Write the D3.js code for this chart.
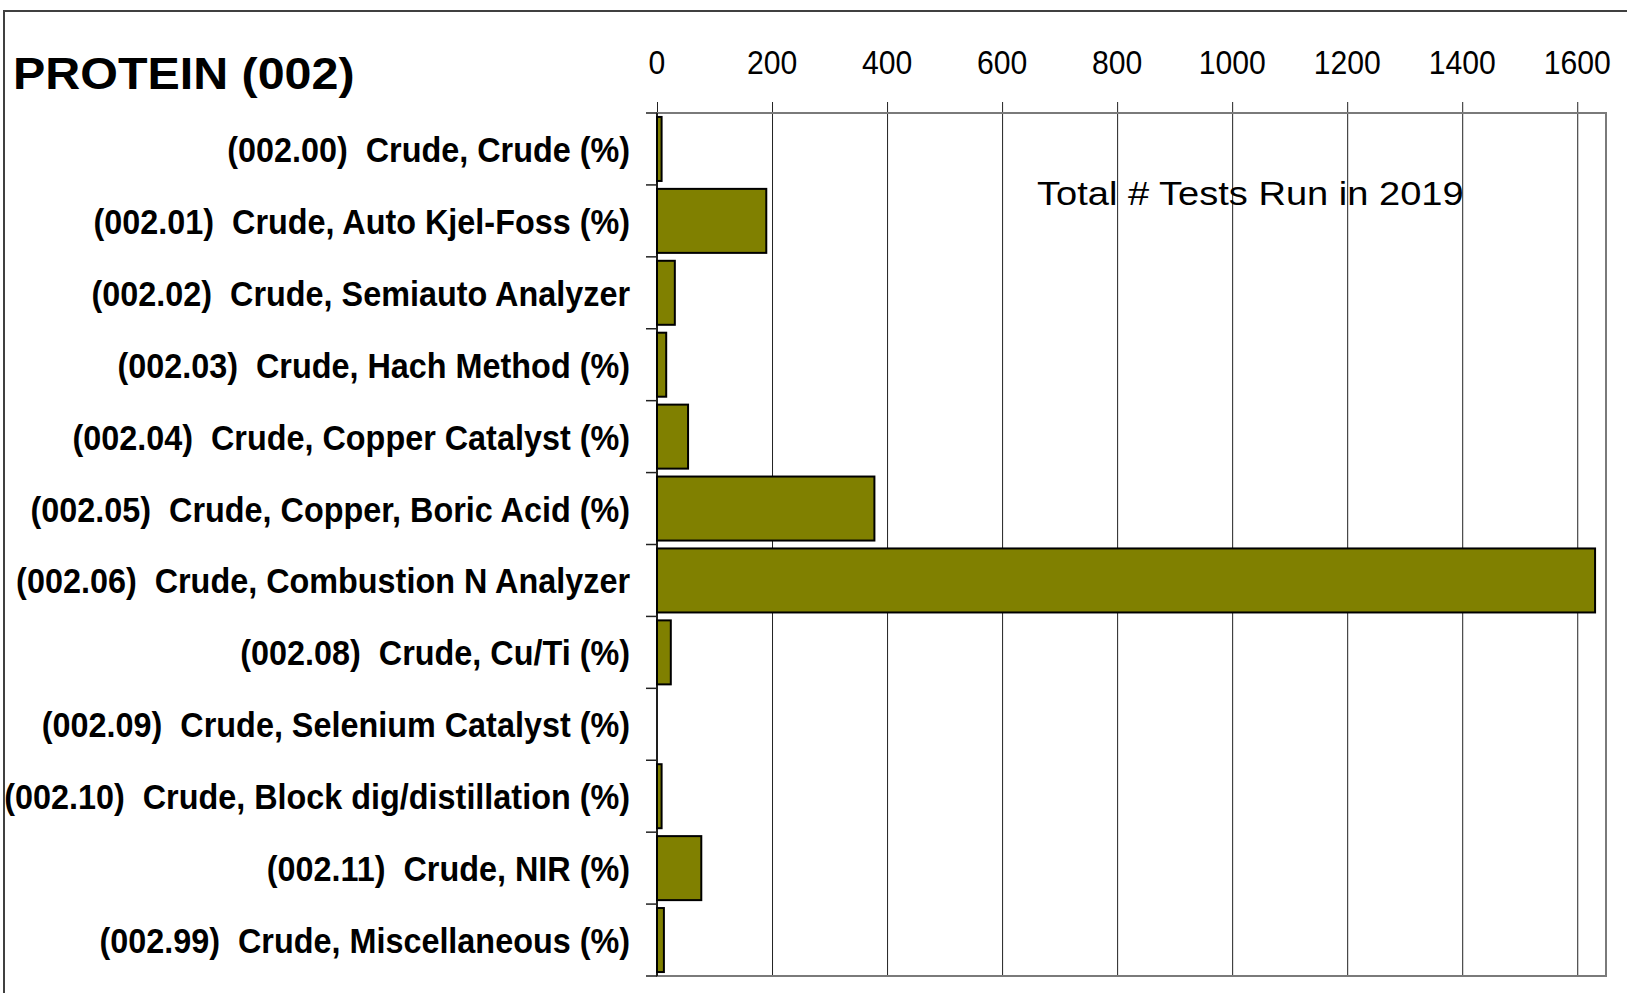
<!DOCTYPE html>
<html>
<head>
<meta charset="utf-8">
<script src="https://cdn.jsdelivr.net/npm/d3@7"></script>
<style>
  body { margin: 0; background: #fff; }
  svg text { font-family: "Liberation Sans", Arial, sans-serif; white-space: pre; }
</style>
</head>
<body>
<svg id="chart"></svg>
<script>
// categories and number of tests run
const categories = [
  "(002.00)  Crude, Crude (%)",
  "(002.01)  Crude, Auto Kjel-Foss (%)",
  "(002.02)  Crude, Semiauto Analyzer",
  "(002.03)  Crude, Hach Method (%)",
  "(002.04)  Crude, Copper Catalyst (%)",
  "(002.05)  Crude, Copper, Boric Acid (%)",
  "(002.06)  Crude, Combustion N Analyzer",
  "(002.08)  Crude, Cu/Ti (%)",
  "(002.09)  Crude, Selenium Catalyst (%)",
  "(002.10)  Crude, Block dig/distillation (%)",
  "(002.11)  Crude, NIR (%)",
  "(002.99)  Crude, Miscellaneous (%)"
];
const testCounts = [8, 190, 31, 16, 54, 378, 1631, 24, 0, 8, 77, 12];
const xTicks = [0, 200, 400, 600, 800, 1000, 1200, 1400, 1600];
const title = "PROTEIN (002)";
const note = "Total # Tests Run in 2019";

const w = 1627;
const h = 993;
const pLeft = 657, pRight = 1606, pTop = 113, pBottom = 976;

const svg = d3.select("#chart").attr("width", w).attr("height", h);

// outer chart border (runs off the right/bottom edge)
svg.append("rect")
  .attr("x", 4).attr("y", 11)
  .attr("width", w + 20).attr("height", h + 20)
  .attr("fill", "none").attr("stroke", "#404040").attr("stroke-width", 2);

const xScale = d3.scaleLinear().domain([0, 1650]).range([pLeft, pRight]);
const yScale = d3.scaleBand().domain(categories).range([pTop, pBottom]).padding(0);

// gridlines, poking out above the plot like tick marks
const grid = svg.append("g")
  .attr("transform", `translate(0, ${pTop})`)
  .call(d3.axisTop(xScale).tickValues(xTicks).tickSize(-(pBottom - pTop)).tickFormat(""));
grid.select(".domain").remove();
grid.selectAll(".tick line").attr("stroke", "#222").attr("stroke-width", 1)
  .attr("y1", -11);

// plot area border
svg.append("rect")
  .attr("x", pLeft).attr("y", pTop)
  .attr("width", pRight - pLeft).attr("height", pBottom - pTop)
  .attr("fill", "none").attr("stroke", "#7a7a7a").attr("stroke-width", 2);

// tick labels on top
svg.append("g")
  .selectAll("text")
  .data(xTicks)
  .enter()
  .append("text")
  .attr("transform", (d) => `translate(${xScale(d)}, 74) scale(0.9, 1)`)
  .attr("text-anchor", "middle")
  .attr("font-size", 33.5)
  .attr("fill", "#000")
  .text((d) => d);

// bars
const rows = categories.map((c, i) => ({ cat: c, val: testCounts[i] }));
const barPad = yScale.bandwidth() * 0.055;
svg.append("g")
  .selectAll("rect")
  .data(rows.filter((d) => d.val > 0))
  .enter()
  .append("rect")
  .attr("x", xScale(0))
  .attr("y", (d) => yScale(d.cat) + barPad)
  .attr("width", (d) => xScale(d.val) - xScale(0))
  .attr("height", yScale.bandwidth() - 2 * barPad)
  .attr("fill", "#808000")
  .attr("stroke", "#000")
  .attr("stroke-width", 2);

// category axis line + ticks at band boundaries
svg.append("line")
  .attr("x1", pLeft).attr("x2", pLeft)
  .attr("y1", pTop).attr("y2", pBottom)
  .attr("stroke", "#000").attr("stroke-width", 1.5);

svg.append("g")
  .selectAll("line")
  .data(d3.range(categories.length + 1))
  .enter()
  .append("line")
  .attr("x1", pLeft - 11).attr("x2", pLeft)
  .attr("y1", (i) => pTop + i * yScale.step())
  .attr("y2", (i) => pTop + i * yScale.step())
  .attr("stroke", "#222").attr("stroke-width", 1.5);

// category labels
svg.append("g")
  .selectAll("text")
  .data(categories)
  .enter()
  .append("text")
  .attr("xml:space", "preserve")
  .attr("transform", (d) => `translate(630, ${yScale(d) + yScale.bandwidth() / 2 + 13}) scale(0.925, 1)`)
  .attr("text-anchor", "end")
  .attr("font-size", 35)
  .attr("font-weight", "bold")
  .attr("fill", "#000")
  .text((d) => d);

// title
svg.append("text")
  .attr("transform", "translate(13, 89) scale(1.1, 1)")
  .attr("font-size", 44)
  .attr("font-weight", "bold")
  .text(title);

// note inside the plot
svg.append("text")
  .attr("transform", "translate(1037, 205) scale(1.12, 1)")
  .attr("font-size", 34)
  .text(note);
</script>
</body>
</html>
